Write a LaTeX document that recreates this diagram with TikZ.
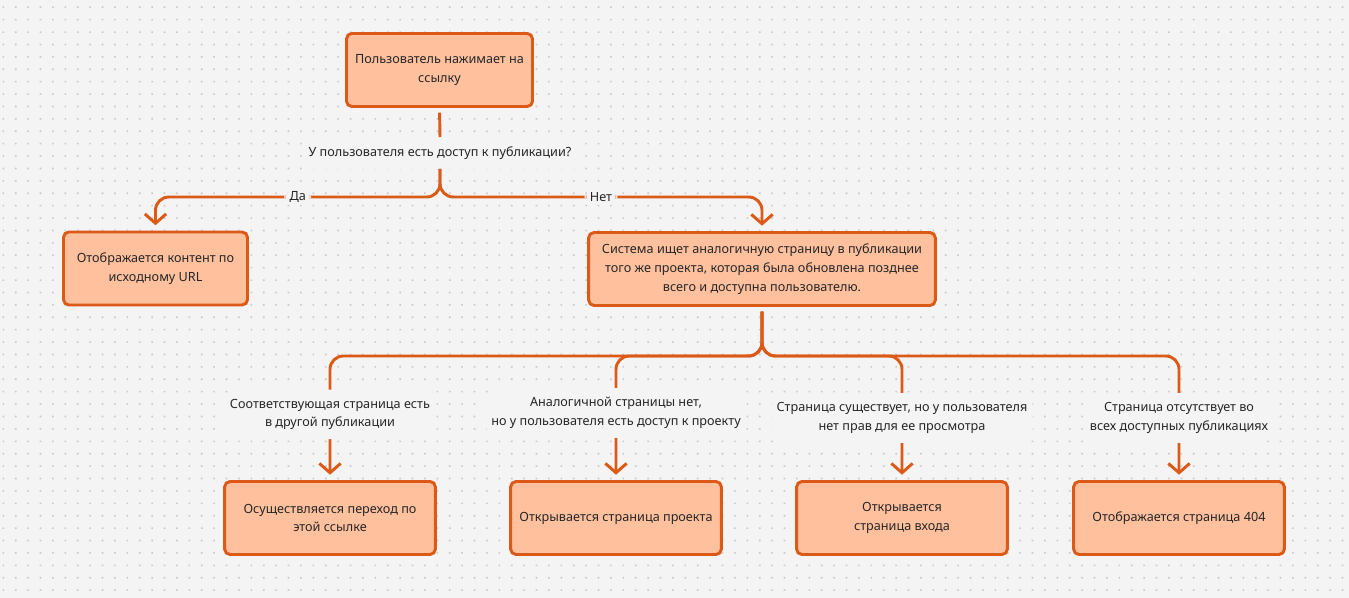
\documentclass[tikz,border=0pt]{standalone}
\usepackage{fontspec}
\setmainfont{Noto Sans}
\usetikzlibrary{positioning,arrows.meta}
\definecolor{bgc}{HTML}{F4F4F4}
\definecolor{dotc}{HTML}{C8C8C8}
\definecolor{boxfill}{HTML}{FFC09E}
\definecolor{boxline}{HTML}{DC5A18}
\definecolor{txtc}{HTML}{262626}

\begin{document}
\begin{tikzpicture}[x=0.75pt,y=-0.75pt,
  card/.style={draw=boxline,fill=boxfill,line width=2.2pt,rounded corners=4pt,
    minimum height=54.75pt,align=center,text=txtc,font=\fontsize{9.5}{14}\selectfont},
  link/.style={draw=boxline,line width=2.2pt,rounded corners=10pt,shorten <=3.5pt},
  into/.style={-{Straight Barb[length=7pt,width=16pt]},shorten >=4pt},
  cond/.style={fill=bgc,align=center,text=txtc,font=\fontsize{9.5}{14}\selectfont,
    inner xsep=4pt,inner ysep=7pt}]
\useasboundingbox (0,0) rectangle (1349,598);
\fill[bgc] (0,0) rectangle (1349,598);
% dotted canvas
\foreach \i in {0,...,108}{
  \fill[dotc] \foreach \j in {0,...,47}{(3.3+12.4*\i-0.8,7.3+12.4*\j-0.8) rectangle ++(1.6,1.6)};
}

% boxes
\node[card,minimum width=139.5pt] (start) at (439.5,70) {Пользователь нажимает на\\ссылку};
\node[card,minimum width=138pt] (yes) at (155.5,268.5) {Отображается контент по\\исходному URL};
\node[card,minimum width=260pt] (search) at (762,269) {Система ищет аналогичную страницу в публикации\\того же проекта, которая была обновлена позднее\\всего и доступна пользователю.};
\node[card,minimum width=158pt] (found) at (330,518) {Осуществляется переход по\\этой ссылке};
\node[card,minimum width=158pt] (project) at (616,518) {Открывается страница проекта};
\node[card,minimum width=158pt] (login) at (902,518) {Открывается\\страница входа};
\node[card,minimum width=158pt] (notfound) at (1179,518) {Отображается страница 404};

% question
\node[cond] (ask) at (440,153) {У пользователя есть доступ к публикации?};
\coordinate (fork1) at (440,197);
\coordinate (fork2) at (762,356);

\draw[link] (start.south) -- (ask.north);
\draw[link,into,shorten <=0pt] (ask.south) -- (fork1) -- node[cond,inner ysep=2pt] (yeslbl) {Да} (yes.north |- fork1) -- (yes.north);
\draw[link,into,shorten <=0pt] (ask.south) -- (fork1) -- node[cond,inner ysep=2pt] (nolbl) {Нет} (search.north |- fork1) -- (search.north);

% outcomes
\draw[link,into] (search.south) -- (fork2) -- (found.north |- fork2) -- node[cond,pos=0.47] (c1) {Соответствующая страница есть\\в другой публикации} (found.north);
\draw[link,into] (search.south) -- (fork2) -- (project.north |- fork2) -- node[cond,pos=0.46] (c2) {Аналогичной страницы нет,\\но у пользователя есть доступ к проекту} (project.north);
\draw[link,into] (search.south) -- (fork2) -- (login.north |- fork2) -- node[cond,pos=0.5] (c3) {Страница существует, но у пользователя\\нет прав для ее просмотра} (login.north);
\draw[link,into] (search.south) -- (fork2) -- (notfound.north |- fork2) -- node[cond,pos=0.5] (c4) {Страница отсутствует во\\всех доступных публикациях} (notfound.north);
\end{tikzpicture}
\end{document}
